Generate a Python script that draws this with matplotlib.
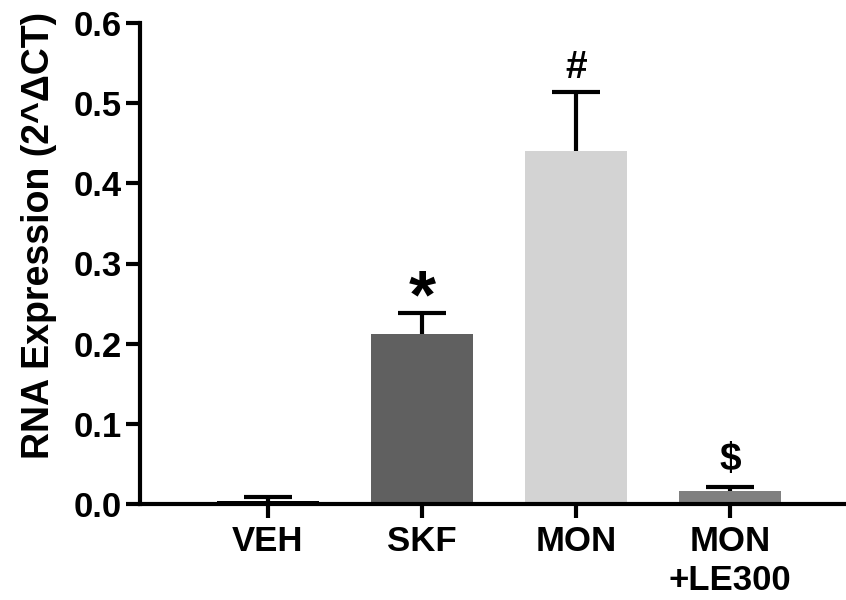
import numpy as np
import matplotlib
matplotlib.use("Agg")
import matplotlib.pyplot as plt

plt.rcParams["font.family"] = ["Liberation Sans", "DejaVu Sans"]
plt.rcParams["font.weight"] = "bold"

groups = ["VEH", "SKF", "MON", "MON\n+LE300"]
means = [0.004, 0.212, 0.440, 0.016]
errors = [0.005, 0.026, 0.074, 0.005]
colors = ["#000000", "#606060", "#d3d3d3", "#808080"]
marks = ["", "*", "#", "$"]

fig = plt.figure(figsize=(8.46, 6), dpi=100)
ax = fig.add_axes([140 / 846, 96 / 600, 706 / 846, 481 / 600])

x = np.arange(len(groups))
ax.bar(x, means, width=0.66, color=colors, zorder=2)
eb = ax.errorbar(x, means, yerr=[np.zeros(len(means)), errors], fmt="none",
                 ecolor="black", elinewidth=3, capsize=17.5, capthick=3,
                 zorder=3)
# only the upper cap, like the original
eb[1][0].set_visible(False)

# significance marks above the error bars
offsets = {"*": -0.005, "#": 0.017, "$": 0.021}
sizes = {"*": 50, "#": 28, "$": 28}
for xi, m, e, s in zip(x, means, errors, marks):
    if not s:
        continue
    ax.text(xi, m + e + offsets[s], s, ha="center", va="baseline",
            fontsize=sizes[s], fontweight="bold")

ax.set_xlim(-0.831, 3.753)
ax.set_ylim(0, 0.6)
ax.set_yticks([0.0, 0.1, 0.2, 0.3, 0.4, 0.5, 0.6])
ax.set_yticklabels(["0.0", "0.1", "0.2", "0.3", "0.4", "0.5", "0.6"])
ax.set_xticks(x)
ax.set_xticklabels(groups, linespacing=1.22)

for side in ["top", "right"]:
    ax.spines[side].set_visible(False)
for side in ["left", "bottom"]:
    ax.spines[side].set_linewidth(3)

ax.tick_params(axis="both", width=3, length=10, labelsize=25, direction="out")
ax.tick_params(axis="x", pad=5)
ax.tick_params(axis="y", pad=3)

ax.set_ylabel("RNA Expression (2^ΔCT)", fontsize=27, fontweight="bold")
ax.yaxis.set_label_coords(-0.1176, 0.558)

plt.savefig("out.png", dpi=100)
